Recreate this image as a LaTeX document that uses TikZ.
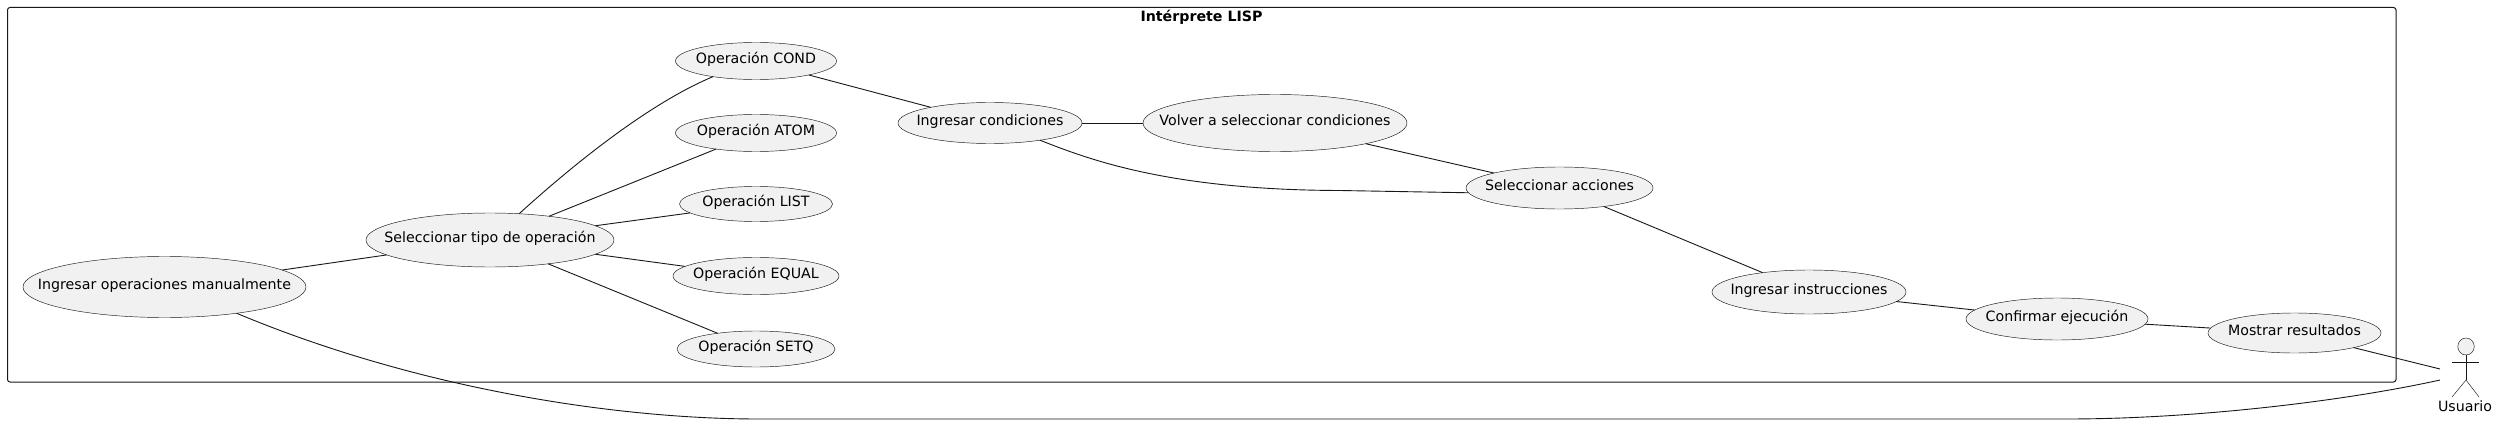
\documentclass[tikz,border=0pt]{standalone}
\usepackage{fontspec}
\setmainfont{DejaVu Sans}
\usetikzlibrary{shapes.geometric}
\definecolor{lineC}{HTML}{181818}
\definecolor{fillC}{HTML}{F1F1F1}
\newcommand{\ut}[1]{\makebox[0pt]{\raisebox{-4.8pt}{\smash{#1}}}}
\tikzset{
  uc/.style 2 args={ellipse,draw=lineC,fill=fillC,line width=0.45pt,inner sep=0pt,outer sep=0pt,minimum width=#1pt,minimum height=#2pt,font=\fontsize{14.2}{16}\selectfont},
  link/.style={draw=lineC,line width=0.9pt},
  frameB/.style={draw=lineC,line width=1pt,rounded corners=2.5pt},
  figura/.style={draw=lineC,line width=0.45pt},
  txt/.style={inner sep=0pt,outer sep=0pt,font=\fontsize{14.2}{16}\selectfont,text=black}
}
\begin{document}
\begin{tikzpicture}[x=1pt,y=-1pt]
\useasboundingbox (0,0) rectangle (2497,425);
\fill[white] (0,0) rectangle (2497,425);
\draw[frameB] (7.5,7.5) rectangle (2396,382);
\node[txt,font=\fontsize{14.2}{16}\selectfont\bfseries] (title) at (1201.5,17.5) {Intérprete LISP};

\node[uc={283}{61}] (manual) at (164.5,287) {\ut{Ingresar operaciones manualmente}};
\node[uc={248}{54}] (tipo) at (490,240) {\ut{Seleccionar tipo de operación}};
\node[uc={161}{37}] (cond) at (756,61) {\ut{Operación COND}};
\node[uc={161}{37}] (atom) at (756,133) {\ut{Operación ATOM}};
\node[uc={153}{35}] (list) at (756,204) {\ut{Operación LIST}};
\node[uc={166}{37}] (equal) at (756,276) {\ut{Operación EQUAL}};
\node[uc={158}{36}] (setq) at (756,349) {\ut{Operación SETQ}};
\node[uc={184}{41}] (condi) at (990,123) {\ut{Ingresar condiciones}};
\node[uc={264}{57}] (volver) at (1275,123) {\ut{Volver a seleccionar condiciones}};
\node[uc={187}{42}] (acciones) at (1559.5,188) {\ut{Seleccionar acciones}};
\node[uc={194}{44}] (instr) at (1809,292) {\ut{Ingresar instrucciones}};
\node[uc={182}{42}] (confirmar) at (2057,319) {\ut{Confirmar ejecución}};
\node[uc={173}{40}] (mostrar) at (2294.5,333) {\ut{Mostrar resultados}};

% actor
\node[ellipse,figura,fill=fillC,inner sep=0pt,minimum width=16.5pt,minimum height=17pt] (cabeza) at (2466,346.5) {};
\coordinate (hombro) at (2466,362);
\coordinate (cadera) at (2466,380);
\coordinate (actorA) at (2440,369);
\coordinate (actorB) at (2440,380);
\draw[figura] (cabeza) -- (cadera);
\draw[figura] (2452,362) -- (2479,362);
\draw[figura] (2452,397) -- (cadera) -- (2479,397);
\node[txt] (usuario) at (2465,406) {Usuario};

\draw[link] (manual) -- (tipo);
\draw[link] (tipo.42) .. controls (565,172) and (645,105) .. (cond.200);
\draw[link] (tipo) -- (atom);
\draw[link] (tipo) -- (list);
\draw[link] (tipo) -- (equal);
\draw[link] (tipo) -- (setq);
\draw[link] (cond) -- (condi);
\draw[link] (condi) -- (volver);
\draw[link] (condi.-19) .. controls (1090,160) and (1170,190) .. (1340,190.5) -- (acciones.183);
\draw[link] (volver) -- (acciones);
\draw[link] (acciones) -- (instr);
\draw[link] (instr) -- (confirmar);
\draw[link] (confirmar) -- (mostrar);
\draw[link] (mostrar) -- (actorA);
\draw[link] (manual.-20) .. controls (420,390) and (620,419) .. (759,419) -- (2066,419) .. controls (2200,419) and (2350,400) .. (actorB);
\end{tikzpicture}
\end{document}
